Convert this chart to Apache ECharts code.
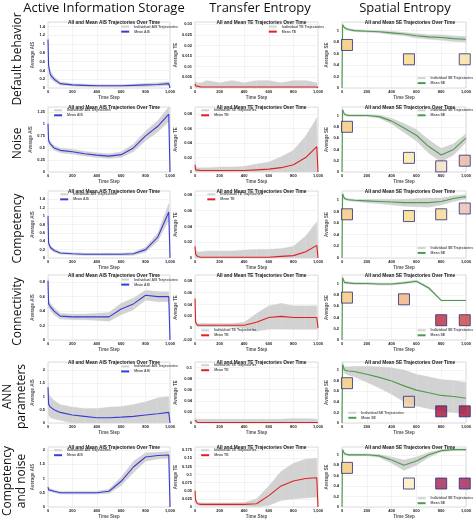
<!DOCTYPE html>
<html><head><meta charset="utf-8">
<script src="https://cdn.jsdelivr.net/npm/echarts@6/dist/echarts.min.js"></script>
<style>html,body{margin:0;background:#fff}#c{width:474px;height:523px}</style>
</head><body><div id="c"></div>
<script>
// time steps shared by all panels
var steps = [0,5,20,50,100,200,300,400,500,600,700,800,900,990,1000];

// Active Information Storage: mean + spread per row
var aisMean = [
  [1.1,0.5,0.3,0.2,0.1,0.07,0.06,0.05,0.05,0.05,0.06,0.07,0.08,0.1,0],
  [1.0,0.65,0.58,0.5,0.45,0.42,0.38,0.35,0.33,0.36,0.5,0.75,0.95,1.2,0],
  [1.0,0.35,0.25,0.18,0.12,0.1,0.09,0.09,0.09,0.09,0.1,0.2,0.5,1.1,0],
  [0.82,0.5,0.46,0.4,0.33,0.32,0.32,0.32,0.32,0.43,0.5,0.62,0.6,0.6,0],
  [1.35,0.7,0.6,0.5,0.4,0.3,0.25,0.2,0.2,0.22,0.25,0.3,0.35,0.4,0],
  [0.7,0.6,0.6,0.55,0.5,0.5,0.5,0.5,0.55,0.9,1.4,1.75,1.8,1.82,0]
];
var aisSpread = [
  [0.05,0.1,0.08,0.06,0.04,0.03,0.03,0.03,0.03,0.03,0.03,0.04,0.04,0.05,0],
  [0.05,0.05,0.05,0.05,0.05,0.05,0.05,0.05,0.05,0.06,0.08,0.1,0.12,0.15,0],
  [0.05,0.05,0.05,0.04,0.03,0.03,0.03,0.03,0.03,0.03,0.04,0.06,0.1,0.2,0],
  [0.05,0.05,0.05,0.05,0.04,0.04,0.04,0.05,0.06,0.08,0.08,0.07,0.07,0.07,0],
  [0.3,0.4,0.4,0.35,0.3,0.3,0.3,0.35,0.4,0.4,0.45,0.5,0.6,0.6,0],
  [0.08,0.05,0.05,0.05,0.05,0.05,0.05,0.05,0.08,0.15,0.2,0.15,0.12,0.12,0]
];
// Transfer Entropy
var teMean = [
  [0.002,0.001,0.0005,0.0005,0.0005,0.0005,0.0005,0.0005,0.0005,0.0005,0.0005,0.0005,0.0005,0.0005,0],
  [0.01,0.003,0.002,0.002,0.002,0.002,0.002,0.002,0.003,0.004,0.006,0.01,0.02,0.035,0],
  [0.015,0.005,0.002,0.001,0.001,0.001,0.001,0.001,0.001,0.001,0.002,0.003,0.008,0.016,0],
  [0.05,0.01,0.005,0.005,0.005,0.005,0.005,0.005,0.01,0.018,0.02,0.018,0.018,0.018,0],
  [0.005,0.002,0.001,0.001,0.001,0.001,0.001,0.001,0.001,0.001,0.001,0.001,0.001,0.001,0],
  [0.05,0.02,0.01,0.008,0.008,0.008,0.008,0.008,0.01,0.035,0.065,0.08,0.088,0.09,0]
];
var teSpread = [
  [0.001,0.002,0.002,0.002,0.003,0.002,0.003,0.002,0.003,0.003,0.002,0.003,0.003,0.002,0],
  [0.005,0.005,0.004,0.004,0.004,0.005,0.005,0.006,0.008,0.01,0.015,0.02,0.03,0.04,0],
  [0.01,0.006,0.006,0.007,0.008,0.008,0.008,0.009,0.01,0.01,0.01,0.012,0.02,0.03,0],
  [0.005,0.004,0.003,0.003,0.003,0.003,0.003,0.005,0.015,0.02,0.022,0.02,0.02,0.02,0],
  [0.003,0.006,0.006,0.006,0.006,0.006,0.006,0.006,0.006,0.006,0.006,0.007,0.007,0.006,0],
  [0.01,0.008,0.005,0.005,0.005,0.005,0.005,0.006,0.015,0.03,0.045,0.055,0.06,0.06,0]
];
// Spatial Entropy
var seMean = [
  [0,1.1,1.05,1.02,1.0,0.99,0.98,0.96,0.94,0.91,0.89,0.88,0.86,0.85,0.85],
  [0,1.1,1.02,1.0,1.0,1.0,0.98,0.9,0.78,0.65,0.45,0.3,0.4,0.58,0.6],
  [0,1.1,1.02,1.0,0.99,0.98,0.97,0.96,0.95,0.95,0.95,0.97,1.02,1.05,1.05],
  [0,1.1,1.02,1.01,1.0,1.0,0.99,0.99,1.01,1.04,0.92,0.7,0.7,0.7,0.7],
  [0,1.1,1.0,0.98,0.97,0.92,0.86,0.79,0.7,0.62,0.57,0.52,0.5,0.47,0.47],
  [0,1.1,1.02,1.0,1.0,1.0,0.98,0.9,0.8,0.88,1.0,1.08,1.1,1.1,1.1]
];
var seSpread = [
  [0,0.02,0.02,0.02,0.02,0.02,0.02,0.03,0.03,0.04,0.04,0.05,0.05,0.05,0.05],
  [0,0.02,0.02,0.02,0.02,0.02,0.03,0.05,0.08,0.1,0.12,0.12,0.1,0.08,0.08],
  [0,0.02,0.02,0.02,0.02,0.03,0.04,0.05,0.06,0.07,0.08,0.06,0.05,0.04,0.04],
  [0,0.02,0.02,0.02,0.02,0.02,0.02,0.02,0.02,0.02,0.02,0.01,0.01,0.01,0.01],
  [0,0.05,0.06,0.08,0.1,0.15,0.2,0.25,0.3,0.3,0.3,0.3,0.3,0.3,0.3],
  [0,0.02,0.02,0.02,0.02,0.02,0.03,0.06,0.1,0.08,0.05,0.02,0.02,0.02,0.02]
];
// axis ranges [max, interval, min]
var aisAxis = [[1.5,0.2,0],[1.35,0.25,0],[1.6,0.2,0],[0.9,0.2,0],[2.3,0.5,0],[2.1,0.5,0]];
var teAxis = [[0.031,0.005,0],[0.09,0.02,0],[0.085,0.02,0],[0.09,0.02,-0.02],[0.11,0.02,0],[0.185,0.025,0]];
var seAxis = [[1.15,0.2,0],[1.15,0.2,0],[1.15,0.2,0],[1.15,0.2,0],[1.15,0.2,0],[1.15,0.2,0]];
// face snapshot positions on the SE panels [step, value, colour]
var faces = [
  [[40,0.75,'#f4c97a'],[540,0.5,'#f6d98a'],[990,0.5,'#f8e2a0']],
  [[40,0.8,'#f4c97a'],[540,0.25,'#fbe7a8'],[800,0.1,'#f3e0c0'],[990,0.2,'#e8b8a0']],
  [[40,0.75,'#f4c97a'],[540,0.72,'#f6d98a'],[800,0.75,'#f6d98a'],[990,0.85,'#e8c0b0']],
  [[40,0.75,'#f4c97a'],[500,0.72,'#f0b080'],[800,0.35,'#b8283a'],[990,0.35,'#c84040']],
  [[40,0.75,'#f4c97a'],[540,0.4,'#f0d0a0'],[800,0.22,'#a0103a'],[990,0.22,'#a0103a']],
  [[40,0.75,'#f4c97a'],[540,0.45,'#fbeec0'],[800,0.45,'#a02050'],[990,0.45,'#a02050']]
];
var rowLabels = ['Default behavior','Noise','Competency','Connectivity','ANN\nparameters','Competency\nand noise'];
var colTitles = ['Active Information Storage','Transfer Entropy','Spatial Entropy'];

var rowTop = [22,107,191,275,362,447], rowH = [66,65,67,65,61,60];
var colLeft = [48,195,342], colW = [122,123,126];
var cols = [
  {key:'AIS', mean:aisMean, spread:aisSpread, axis:aisAxis, color:'#3b3bd6'},
  {key:'TE', mean:teMean, spread:teSpread, axis:teAxis, color:'#e02020'},
  {key:'SE', mean:seMean, spread:seSpread, axis:seAxis, color:'#4f9a4f'}
];
var legPos = [
  [[0.6,0.04],[0.6,0.04],[0.6,0.82]],
  [[0.05,0.02],[0.05,0.02],[0.6,0.02]],
  [[0.1,0.02],[0.1,0.02],[0.6,0.82]],
  [[0.6,0.04],[0.05,0.82],[0.6,0.82]],
  [[0.6,0.04],[0.05,0.02],[0.05,0.8]],
  [[0.05,0.02],[0.05,0.02],[0.6,0.82]]
];

// gray envelope drawn as quads between consecutive steps
function bandItem(params, api) {
  var i = api.value(0);
  if (i >= steps.length - 1) return;
  var m = params.context.m, s = params.context.s, lo = params.context.lo;
  var a = api.coord([steps[i], m[i]+s[i]]), b = api.coord([steps[i+1], m[i+1]+s[i+1]]);
  var cc = api.coord([steps[i+1], Math.max(lo, m[i+1]-s[i+1])]), d = api.coord([steps[i], Math.max(lo, m[i]-s[i])]);
  return {type:'polygon', shape:{points:[a,b,cc,d]}, style:{fill:'#d2d2d2', stroke:'#d2d2d2', lineWidth:0.3}};
}

var grids=[], xAxes=[], yAxes=[], series=[], titles=[], legends=[], gi=0;
for (var r=0;r<6;r++) for (var c=0;c<3;c++) {
  var col = cols[c], m = col.mean[r], s = col.spread[r], ax = col.axis[r];
  grids.push({left:colLeft[c], top:rowTop[r], width:colW[c], height:rowH[r], show:true, borderColor:'#bbb', borderWidth:0.5});
  xAxes.push({type:'value', gridIndex:gi, min:0, max:1000, interval:200,
    axisLabel:{fontSize:4, fontWeight:'bold', color:'#222', margin:2},
    axisLine:{show:false}, axisTick:{show:false}, splitLine:{lineStyle:{color:'#e6e6e6',width:0.5}},
    name:'Time Step', nameLocation:'middle', nameGap:7, nameTextStyle:{fontSize:4.5,fontWeight:'bold'}});
  yAxes.push({type:'value', gridIndex:gi, min:ax[2], max:ax[0], interval:ax[1],
    axisLabel:{fontSize:4, fontWeight:'bold', color:'#222', margin:3, showMaxLabel:false},
    axisLine:{show:false}, axisTick:{show:false}, splitLine:{lineStyle:{color:'#e6e6e6',width:0.5}},
    name:'Average '+col.key, nameLocation:'middle', nameGap:c==1?17:13, nameTextStyle:{fontSize:4.5,fontWeight:'bold'}});
  titles.push({text:'All and Mean '+col.key+' Trajectories Over Time', left:colLeft[c]+colW[c]/2, top:rowTop[r]-7,
    textAlign:'center', textStyle:{fontSize:4.8,fontWeight:'bold',color:'#222'}});
  var ind = 'Individual '+col.key+' Trajectories', mn = 'Mean '+col.key;
  (function(m,s,lo){
    series.push({name:ind, type:'custom', xAxisIndex:gi, yAxisIndex:gi, silent:true, clip:true,
      data:steps.map(function(x,i){return [i];}), itemStyle:{color:'#d2d2d2'},
      renderItem:function(p,api){ p.context.m=m; p.context.s=s; p.context.lo=lo; return bandItem(p,api); }});
  })(m,s,Math.max(ax[2],-0.005));
  series.push({name:mn, type:'line', xAxisIndex:gi, yAxisIndex:gi, data:steps.map(function(x,i){return [x,m[i]];}),
    symbol:'none', lineStyle:{width:1.1,color:col.color}, itemStyle:{color:col.color}, z:5});
  if (c==2) series.push({type:'scatter', xAxisIndex:gi, yAxisIndex:gi, symbol:'rect', symbolSize:11, z:6,
    data:faces[r].map(function(f){return {value:[f[0],f[1]], itemStyle:{color:f[2]}};}),
    itemStyle:{borderColor:'#2a2a7a',borderWidth:1}});
  var lp = legPos[r][c];
  legends.push({data:[{name:ind,icon:'rect'},{name:mn,icon:'rect'}], orient:'vertical', left:colLeft[c]+colW[c]*lp[0], top:rowTop[r]+rowH[r]*lp[1],
    itemWidth:8, itemHeight:2, itemGap:1, padding:0, selectedMode:false, textStyle:{fontSize:3.5,fontWeight:'bold'}});
  gi++;
}
var graphic = [];
colTitles.forEach(function(t,c){
  graphic.push({type:'text', x:[104,260,405][c], y:2,
    style:{text:t, fill:'#111', font:'13px "Open Sans"', align:'center'}});
});
rowLabels.forEach(function(t,r){
  graphic.push({type:'text', rotation:Math.PI/2, x:[18,18,18,18,15,15][r], y:rowTop[r]+rowH[r]/2+4,
    style:{text:t, fill:'#111', font:'12px "Open Sans"', align:'center', verticalAlign:'middle', lineHeight:14}});
});

var chart = echarts.init(document.getElementById('c'));
chart.setOption({animation:false, title:titles, legend:legends, grid:grids, xAxis:xAxes, yAxis:yAxes, series:series, graphic:graphic});
</script></body></html>
